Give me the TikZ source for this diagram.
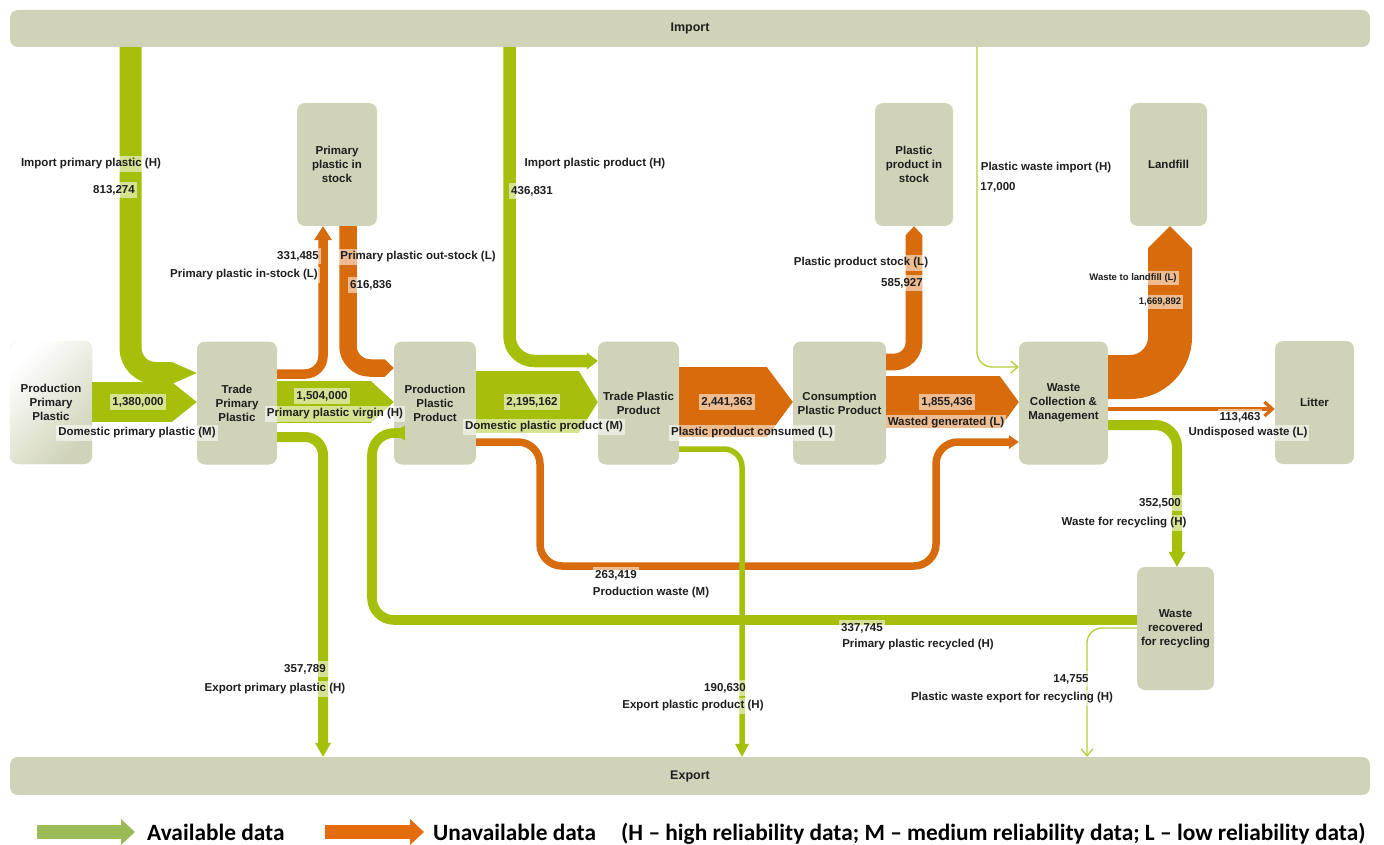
\documentclass[tikz,border=0pt]{standalone}
\usepackage{fontspec}
\setmainfont{Liberation Sans}
\newfontfamily\legendfont{Carlito}
\usetikzlibrary{arrows.meta}

\definecolor{boxc}{RGB}{208,211,184}
\definecolor{flowgreen}{RGB}{166,191,10}
\definecolor{floworange}{RGB}{216,108,12}
\definecolor{keygreen}{RGB}{155,187,89}
\definecolor{keyorange}{RGB}{228,108,10}
\definecolor{inkc}{RGB}{30,30,30}

\tikzset{
  stage/.style = {fill=boxc, rounded corners=8pt, inner sep=0pt, align=center, text=inkc,
    font=\bfseries\fontsize{11.5}{14}\selectfont, minimum height=123pt},
  bar/.style = {stage, minimum width=1360pt, minimum height=37pt, font=\bfseries\fontsize{12.5}{14}\selectfont},
  gflow/.style = {draw=flowgreen},
  oflow/.style = {draw=floworange},
  chevron/.style = {-{Triangle[width=0pt 1, length=#1, line width=0pt]}},
  head/.style 2 args = {-{Triangle[width=#1, length=#2, line width=0pt]}},
  thinflow/.style = {draw=flowgreen!80!white, line width=1.3pt, -{Straight Barb[width=12pt, length=7pt]}},
  lbl/.style = {fill=white, fill opacity=0.55, text opacity=1, text=inkc, inner xsep=2pt, inner ysep=3pt,
    font=\bfseries\fontsize{11.5}{13}\selectfont},
  lblsmall/.style = {lbl, font=\bfseries\fontsize{9.5}{11}\selectfont},
  key/.style = {inner sep=0pt, text=black, font=\legendfont\bfseries\fontsize{23.35}{27}\selectfont}
}

\begin{document}
\begin{tikzpicture}[x=1pt, y=-1pt]
\useasboundingbox (0,0) rectangle (1384,845);

% import and export bars
\node[bar] (imp) at (690,28.5) {Import};
\node[bar, minimum height=38pt] (exp) at (690,776) {Export};

% stages
\node[stage, minimum width=82pt, top color=white, bottom color=boxc, shading angle=45] (ppp) at (51,402.5) {Production\\Primary\\Plastic};
\node[stage, minimum width=80pt] (tpp) at (237,403) {Trade\\Primary\\Plastic};
\node[stage, minimum width=80pt] (pps) at (337,164.5) {Primary\\plastic in\\stock};
\node[stage, minimum width=82pt] (ppr) at (435,403) {Production\\Plastic\\Product};
\node[stage, minimum width=81pt] (tpl) at (638.5,403) {Trade Plastic\\Product};
\node[stage, minimum width=93pt] (cpp) at (839.5,403) {Consumption\\Plastic Product};
\node[stage, minimum width=78pt] (pst) at (914,164.5) {Plastic\\product in\\stock};
\node[stage, minimum width=89pt] (wcm) at (1063.5,403) {Waste\\Collection \&\\Management};
\node[stage, minimum width=77pt] (lfl) at (1168.5,164.5) {Landfill};
\node[stage, minimum width=79pt] (ltr) at (1314.5,402.5) {Litter};
\node[stage, minimum width=77pt] (wrr) at (1175.5,628.5) {Waste\\recovered\\for recycling};

% primary plastic flows
\draw[gflow, line width=22pt, chevron=25pt, rounded corners=25pt] (imp.south -| 130.5,0) |- (tpp.west |- 0,373);
\draw[gflow, line width=40pt, chevron=25pt] (ppp.east |- 0,402) -- (tpp.west |- 0,402);
\draw[oflow, line width=9.5pt, head={18pt}{14pt}, rounded corners=18pt] (tpp.east |- 0,374) -| (pps.south -| 323,0);
\draw[oflow, line width=17.5pt, chevron=9pt, rounded corners=22pt] (pps.south -| 348,0) |- (ppr.west |- 0,368);
\draw[gflow, line width=42pt, chevron=23pt] (tpp.east |- 0,402) -- (ppr.west |- 0,402);
\draw[gflow, line width=10pt, head={16pt}{14pt}, rounded corners=18pt] (tpp.east |- 0,437) -| (exp.north -| 323,0);
\draw[gflow, line width=9.6pt, head={15pt}{11pt}] (wrr.west |- 0,620) [rounded corners=22pt] -| (372,433) [rounded corners=8pt] -- (ppr.west |- 0,433);

% plastic product flows
\draw[gflow, line width=12.5pt, head={17pt}{11pt}, rounded corners=25pt] (imp.south -| 509.5,0) |- (tpl.west |- 0,361);
\draw[gflow, line width=62pt, chevron=19pt] (ppr.east |- 0,402) -- (tpl.west |- 0,402);
\draw[oflow, line width=7.5pt, head={14pt}{10pt}, rounded corners=22pt] (ppr.east |- 0,442) -| (540,566) -| (936,442) -- (wcm.west |- 0,442);
\draw[oflow, line width=70pt, chevron=26pt] (tpl.east |- 0,402) -- (cpp.west |- 0,402);
\draw[gflow, line width=5.5pt, head={14pt}{13pt}, rounded corners=18pt] (tpl.east |- 0,449) -| (exp.north -| 742,0);
\draw[oflow, line width=16.7pt, chevron=9pt, rounded corners=20pt] (cpp.east |- 0,362) -| (pst.south -| 914,0);
\draw[oflow, line width=52pt, chevron=19pt] (cpp.east |- 0,402) -- (wcm.west |- 0,402);

% waste flows
\draw[thinflow, rounded corners=15pt] (imp.south -| 977,0) |- (wcm.west |- 0,367);
\draw[oflow, line width=44pt, chevron=22pt, rounded corners=40pt] (wcm.east |- 0,377) -| (lfl.south -| 1170,0);
\draw[oflow, line width=3.2pt, -{Straight Barb[width=14pt, length=8pt]}] (wcm.east |- 0,409) -- (ltr.west |- 0,409);
\draw[gflow, line width=10pt, head={17pt}{15pt}, rounded corners=22pt] (wcm.east |- 0,425) -| (wrr.north -| 1177,0);
\draw[thinflow, rounded corners=15pt] (wrr.west |- 0,628) -| (exp.north -| 1087,0);

% labels
\node[lbl] (limppp) at (91,164) {Import primary plastic (H)};
\node[lbl] (vimppp) at (114,190) {813,274};
\node[lbl] (vinst) at (298,256) {331,485};
\node[lbl] (linst) at (244,275) {Primary plastic in-stock (L)};
\node[lbl] (loutst) at (418,257) {Primary plastic out-stock (L)};
\node[lbl] (voutst) at (371,285) {616,836};
\node[lbl] (vdompp) at (138,402) {1,380,000};
\node[lbl] (ldompp) at (137,433) {Domestic primary plastic (M)};
\node[lbl] (vvirg) at (322,396) {1,504,000};
\node[lbl] (lvirg) at (335,414) {Primary plastic virgin (H)};
\node[lbl] (limppr) at (595,164) {Import plastic product (H)};
\node[lbl] (vimppr) at (532,191) {436,831};
\node[lbl] (vdompr) at (532,402) {2,195,162};
\node[lbl] (ldompr) at (544,427) {Domestic plastic product (M)};
\node[lbl] (vcons) at (727,402) {2,441,363};
\node[lbl] (lcons) at (752,433) {Plastic product consumed (L)};
\node[lbl] (lprst) at (861,263) {Plastic product stock (L)};
\node[lbl] (vprst) at (902,283) {585,927};
\node[lbl] (vwgen) at (947,402) {1,855,436};
\node[lbl] (lwgen) at (946,423) {Wasted generated (L)};
\node[lbl] (lwimp) at (1046,168) {Plastic waste import (H)};
\node[lbl] (vwimp) at (998,187) {17,000};
\node[lblsmall] (llfl) at (1133,278) {Waste to landfill (L)};
\node[lblsmall] (vlfl) at (1160,302) {1,669,892};
\node[lbl] (vundis) at (1240,417) {113,463};
\node[lbl] (lundis) at (1248,433) {Undisposed waste (L)};
\node[lbl] (vwrec) at (1160,503) {352,500};
\node[lbl] (lwrec) at (1124,523) {Waste for recycling (H)};
\node[lbl] (vprw) at (616,575) {263,419};
\node[lbl] (lprw) at (651,593) {Production waste (M)};
\node[lbl] (vrecy) at (862,628) {337,745};
\node[lbl] (lrecy) at (918,645) {Primary plastic recycled (H)};
\node[lbl] (vexppp) at (305,669) {357,789};
\node[lbl] (lexppp) at (275,689) {Export primary plastic (H)};
\node[lbl] (vexppr) at (725,688) {190,630};
\node[lbl] (lexppr) at (693,706) {Export plastic product (H)};
\node[lbl] (vwexp) at (1071,679) {14,755};
\node[lbl] (lwexp) at (1012,698) {Plastic waste export for recycling (H)};

% legend
\draw[keygreen, line width=14pt, -{Triangle[width=26pt, length=14pt, line width=0pt]}] (37,832) -- (135,832);
\node[key, anchor=base west] (kav) at (147,840) {Available data};
\draw[keyorange, line width=14pt, -{Triangle[width=26pt, length=14pt, line width=0pt]}] (325,832) -- (424,832);
\node[key, anchor=base west] (kun) at (433,840) {Unavailable data};
\node[key, anchor=base west] (krel) at (621,840) {(H – high reliability data; M – medium reliability data; L – low reliability data)};
\end{tikzpicture}
\end{document}
